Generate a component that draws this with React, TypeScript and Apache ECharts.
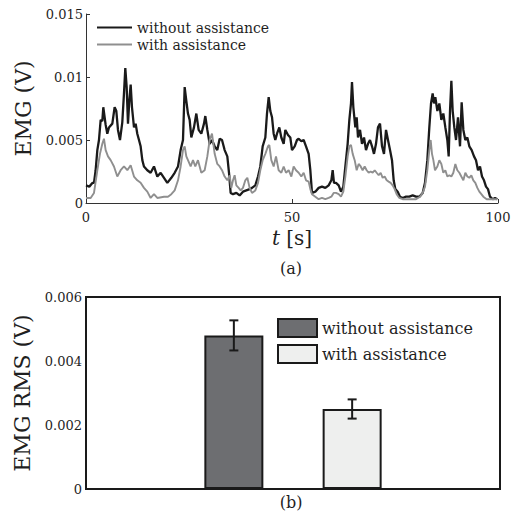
import React, { useEffect, useRef } from 'react';
import * as echarts from 'echarts';

const FONT = 'DejaVu Serif';
const TEXT = '#1f1f1f';

// (a) EMG time series: [t (s), EMG (V)]
const withoutAssistance: [number, number][] = [
  [0, 0.0014], [0.8, 0.0013], [1.6, 0.0016], [1.94, 0.0016], [2.34, 0.0026], [2.75, 0.0042], [3.15, 0.005], [3.56, 0.0066], [3.96, 0.0065], [4.2, 0.0076], [4.77, 0.0062], [5.17, 0.0055], [5.58, 0.006], [6.39, 0.0063], [6.95, 0.0076], [7.36, 0.0073], [7.76, 0.0058], [8.25, 0.005], [8.81, 0.0064], [9.22, 0.0087], [9.54, 0.0107], [9.87, 0.0092], [10.19, 0.0063], [10.51, 0.0081], [10.84, 0.0094], [11.16, 0.0076], [11.65, 0.006], [12.05, 0.0063], [12.45, 0.0055], [12.86, 0.005], [13.26, 0.0045], [13.67, 0.0034], [14.07, 0.0029], [14.88, 0.0026], [15.69, 0.0024], [16.5, 0.0029], [17.31, 0.0021], [18.12, 0.0024], [18.93, 0.002], [19.74, 0.0016],
  [20.71, 0.002], [21.52, 0.0024], [22.33, 0.0029], [22.97, 0.0042], [23.54, 0.005], [23.95, 0.0092], [24.35, 0.0081], [24.75, 0.0071], [25.16, 0.0066], [25.56, 0.0052], [26.21, 0.006], [26.78, 0.0071], [27.34, 0.0058], [27.99, 0.0055], [28.64, 0.0063], [28.96, 0.0069], [29.45, 0.0058], [30.01, 0.0047], [30.58, 0.005], [31.23, 0.0045], [31.87, 0.0042], [32.44, 0.0051], [33.01, 0.005], [33.65, 0.0042], [34.3, 0.0037], [34.71, 0.0024], [35.11, 0.0008], [35.68, 0.0007], [36.49, 0.0008], [37.29, 0.0006], [38.1, 0.0009], [38.91, 0.001], [39.72, 0.0011],
  [40.29, 0.0012], [41.1, 0.0014], [41.75, 0.0021], [42.31, 0.0029], [42.88, 0.0045], [43.53, 0.0052], [43.93, 0.0071], [44.34, 0.0084], [44.74, 0.0073], [45.15, 0.0068], [45.55, 0.0055], [45.95, 0.005], [46.36, 0.0055], [46.92, 0.006], [47.41, 0.0052], [47.98, 0.0047], [48.38, 0.0058], [49.03, 0.0054], [49.59, 0.0052], [50, 0.0042], [50.65, 0.0045], [51.21, 0.005], [51.62, 0.0051], [52.26, 0.0049], [52.83, 0.005], [53.4, 0.0045], [54.04, 0.0039], [54.45, 0.0026], [54.85, 0.0008], [55.66, 0.0009], [56.47, 0.0012], [57.28, 0.0013], [58.09, 0.0012], [58.9, 0.0014], [59.55, 0.0018], [59.87, 0.0026], [60.19, 0.0016],
  [60.68, 0.0016], [61.33, 0.0014], [61.89, 0.0009], [62.46, 0.0013], [62.95, 0.0029], [63.51, 0.0047], [63.92, 0.0066], [64.32, 0.0079], [64.56, 0.0096], [64.89, 0.0076], [65.37, 0.006], [65.7, 0.0068], [66.02, 0.0052], [66.51, 0.0058], [66.99, 0.0047], [67.48, 0.0052], [67.96, 0.0042], [68.45, 0.0047], [68.93, 0.005], [69.42, 0.0045], [69.9, 0.0039], [70.39, 0.0047], [70.87, 0.006], [71.36, 0.0063], [71.85, 0.0045], [72.33, 0.0039], [72.82, 0.0058], [73.3, 0.005], [73.79, 0.0042], [74.27, 0.0034], [74.68, 0.0018], [75.08, 0.0011], [75.65, 0.0009], [76.21, 0.0005], [76.86, 0.0004], [77.67, 0.0005], [78.48, 0.0005], [79.29, 0.0006], [80.1, 0.0005], [80.91, 0.0005],
  [81.72, 0.0008], [82.28, 0.0016], [82.85, 0.0034], [83.33, 0.006], [83.74, 0.0079], [84.14, 0.0087], [84.47, 0.0079], [84.79, 0.0084], [85.28, 0.0073], [85.76, 0.0079], [86.25, 0.0066], [86.73, 0.0071], [87.22, 0.006], [87.7, 0.005], [88.03, 0.0037], [88.35, 0.0073], [88.68, 0.0097], [89, 0.0073], [89.4, 0.006], [89.81, 0.005], [90.29, 0.0068], [90.78, 0.0045], [91.18, 0.008], [91.59, 0.0058], [92.07, 0.005], [92.56, 0.0052], [93.04, 0.0045], [93.61, 0.0042], [94.18, 0.0037], [94.66, 0.0034], [95.15, 0.0026], [95.63, 0.0029], [96.12, 0.0021], [96.6, 0.0018], [97.09, 0.0013], [97.57, 0.0011], [98.06, 0.0005], [98.71, 0.0003], [99.27, 0.0004], [99.84, 0.0003],
];

const withAssistance: [number, number][] = [
  [0, 0.0004], [1.13, 0.0004], [1.94, 0.0008], [2.75, 0.0026], [3.39, 0.0039], [3.96, 0.0047], [4.36, 0.0051], [4.77, 0.0042], [5.34, 0.0037], [5.98, 0.0034], [6.79, 0.0029], [7.6, 0.0021], [8.41, 0.0026], [9.22, 0.0029], [10.03, 0.0026], [10.84, 0.003], [11.65, 0.0021], [12.45, 0.0018], [13.26, 0.0016], [14.07, 0.0012], [14.88, 0.0009], [15.69, 0.0004], [16.5, 0.0007], [17.31, 0.0004], [18.93, 0.0005],
  [19.9, 0.0005], [20.71, 0.0007], [21.52, 0.001], [22.33, 0.0018], [22.97, 0.0029], [23.54, 0.0042], [23.95, 0.0045], [24.35, 0.0037], [24.75, 0.0034], [25.4, 0.0029], [25.97, 0.0034], [26.53, 0.0029], [27.18, 0.0034], [27.99, 0.0024], [28.8, 0.0026], [29.45, 0.0037], [30.01, 0.005], [30.58, 0.0055], [31.23, 0.0039], [31.87, 0.0031], [32.44, 0.0029], [33.01, 0.0026], [33.65, 0.0021], [34.3, 0.0018], [34.87, 0.0022], [35.27, 0.0012], [35.68, 0.0018], [36.08, 0.0022], [36.49, 0.0014], [37.05, 0.0012], [37.54, 0.001], [38.1, 0.0012], [38.67, 0.0018], [39.16, 0.002], [39.72, 0.0012],
  [40.29, 0.0008], [41.1, 0.001], [41.75, 0.0016], [42.31, 0.0026], [42.88, 0.0034], [43.53, 0.0039], [44.17, 0.0045], [44.5, 0.0046], [44.98, 0.0034], [45.55, 0.0029], [46.12, 0.0037], [46.76, 0.0026], [47.41, 0.0024], [47.98, 0.0029], [48.54, 0.0024], [49.19, 0.0026], [49.84, 0.0021], [50.4, 0.0029], [50.97, 0.0026], [51.62, 0.0024], [52.26, 0.0021], [52.83, 0.0024], [53.4, 0.0018], [54.04, 0.0017], [54.45, 0.0011], [54.85, 0.0007], [55.66, 0.0005], [56.47, 0.0003], [57.28, 0.0004], [58.09, 0.0003], [58.9, 0.0004], [59.55, 0.0005], [60.11, 0.0008],
  [60.68, 0.0008], [61.33, 0.0007], [61.89, 0.0005], [62.46, 0.0009], [62.95, 0.0021], [63.51, 0.0037], [63.92, 0.0045], [64.32, 0.0046], [64.73, 0.0039], [65.21, 0.0034], [65.7, 0.0026], [66.18, 0.0031], [66.67, 0.0029], [67.15, 0.0026], [67.64, 0.0029], [68.12, 0.0026], [68.61, 0.0024], [69.09, 0.0025], [69.58, 0.0024], [70.07, 0.0026], [70.55, 0.0024], [71.04, 0.0022], [71.52, 0.0024], [72.01, 0.002], [72.49, 0.0021], [72.98, 0.0018], [73.46, 0.0017], [73.95, 0.0016], [74.43, 0.0014], [74.92, 0.0011], [75.4, 0.0007], [76.05, 0.0004], [76.86, 0.0003], [77.67, 0.0003], [78.48, 0.0003], [79.29, 0.0003], [80.1, 0.0003],
  [81.07, 0.0005], [81.72, 0.0008], [82.28, 0.0013], [82.85, 0.0026], [83.33, 0.0042], [83.66, 0.005], [83.98, 0.0039], [84.31, 0.0034], [84.71, 0.0026], [85.28, 0.0029], [85.76, 0.0034], [86.25, 0.0031], [86.73, 0.0024], [87.22, 0.0026], [87.7, 0.0021], [88.19, 0.0022], [88.68, 0.0021], [89.16, 0.0024], [89.65, 0.0031], [90.13, 0.0026], [90.62, 0.0024], [91.1, 0.0021], [91.59, 0.0018], [92.07, 0.0024], [92.56, 0.0021], [93.04, 0.002], [93.53, 0.0022], [94.01, 0.0018], [94.5, 0.0016], [94.99, 0.0012], [95.47, 0.0009], [95.96, 0.0007], [96.44, 0.0005], [97.25, 0.0003], [98.06, 0.0003], [98.87, 0.0003], [99.84, 0.0003],
];

// (b) EMG RMS bars
const rmsNames = ['without assistance', 'with assistance'];
const rmsPositions = [1, 2];
const rmsMean = [0.0048, 0.0025];
const rmsErr = [0.00047, 0.0003];
const barColors = ['#6d6e71', '#eeefee'];

const topXTicks = { min: 0, max: 100, interval: 50 };
const topYTicks = { min: 0, max: 0.015, interval: 0.005 };
const botYTicks = { min: 0, max: 0.006, interval: 0.002 };

const SUFFIX = ' (RMS)';

export default function App() {
  const ref = useRef<HTMLDivElement>(null);
  useEffect(() => {
    const chart = echarts.init(ref.current!, null, { renderer: 'svg' });
    const labelStyle = { color: TEXT, fontFamily: FONT, fontSize: 13 };
    const option: any = {
      animation: false,
      backgroundColor: '#ffffff',
      grid: [
        { left: 86, top: 14, width: 412, height: 189 },
        { left: 86, top: 297, width: 414, height: 192, show: true, borderColor: '#1a1a1a', borderWidth: 2, backgroundColor: 'transparent' },
      ],
      xAxis: [
        {
          gridIndex: 0, type: 'value', ...topXTicks,
          axisLine: { lineStyle: { color: '#333', width: 1 } },
          axisTick: { inside: true, length: 4, lineStyle: { color: '#333' } },
          splitLine: { show: false },
          axisLabel: { ...labelStyle, margin: 8 },
          name: '{i|t} [s]', nameLocation: 'middle', nameGap: 25,
          nameTextStyle: { color: TEXT, fontFamily: FONT, fontSize: 20, rich: { i: { fontStyle: 'italic', fontFamily: FONT, fontSize: 20, color: TEXT } } },
        },
        { gridIndex: 1, type: 'value', min: -0.25, max: 3.25, show: false },
      ],
      yAxis: [
        {
          gridIndex: 0, type: 'value', ...topYTicks,
          axisLine: { show: true, lineStyle: { color: '#333', width: 1 } },
          axisTick: { show: true, inside: true, length: 4, lineStyle: { color: '#333' } },
          splitLine: { show: false },
          axisLabel: { ...labelStyle, margin: 3 },
          name: 'EMG (V)', nameLocation: 'middle', nameGap: 48, nameRotate: 90,
          nameTextStyle: { color: TEXT, fontFamily: FONT, fontSize: 22 },
        },
        {
          gridIndex: 1, type: 'value', ...botYTicks,
          axisLine: { show: false }, axisTick: { show: false }, splitLine: { show: false },
          axisLabel: { ...labelStyle, margin: 4 },
          name: 'EMG RMS (V)', nameLocation: 'middle', nameGap: 46, nameRotate: 90,
          nameTextStyle: { color: TEXT, fontFamily: FONT, fontSize: 22 },
        },
      ],
      legend: [
        {
          data: ['without assistance', 'with assistance'], orient: 'vertical', left: 97, top: 19, padding: 0,
          icon: 'rect', itemWidth: 35, itemHeight: 2, itemGap: 0, selectedMode: false,
          textStyle: { color: TEXT, fontFamily: FONT, fontSize: 14, lineHeight: 17 },
        },
        {
          data: rmsNames.map((n) => n + SUFFIX), orient: 'vertical', left: 277, top: 318, padding: 0,
          itemWidth: 39, itemHeight: 18, itemGap: 6, icon: 'rect', selectedMode: false,
          formatter: (n: string) => n.replace(SUFFIX, ''),
          textStyle: { color: TEXT, fontFamily: FONT, fontSize: 16 },
        },
      ],
      series: [
        {
          type: 'line', name: 'without assistance', xAxisIndex: 0, yAxisIndex: 0, data: withoutAssistance,
          symbol: 'none', lineStyle: { color: '#1a1a1a', width: 2.3 }, itemStyle: { color: '#1a1a1a' }, z: 3,
        },
        {
          type: 'line', name: 'with assistance', xAxisIndex: 0, yAxisIndex: 0, data: withAssistance,
          symbol: 'none', lineStyle: { color: '#8f8f8f', width: 1.9 }, itemStyle: { color: '#8f8f8f' }, z: 4,
        },
        ...rmsNames.map((n, i) => ({
          type: 'bar', name: n + SUFFIX, xAxisIndex: 1, yAxisIndex: 1, stack: 'rms', barWidth: 59,
          data: [[rmsPositions[i], rmsMean[i]]],
          itemStyle: { color: barColors[i], borderColor: '#1a1a1a', borderWidth: 2 },
        })),
        {
          type: 'custom', xAxisIndex: 1, yAxisIndex: 1, z: 10,
          data: rmsPositions.map((p, i) => [p, rmsMean[i] - rmsErr[i], rmsMean[i] + rmsErr[i]]),
          renderItem: (params: any, api: any) => {
            const lo = api.coord([api.value(0), api.value(1)]);
            const hi = api.coord([api.value(0), api.value(2)]);
            const hw = 4.5;
            const st = { stroke: '#1a1a1a', lineWidth: 2 };
            return {
              type: 'group',
              children: [
                { type: 'line', shape: { x1: lo[0], y1: lo[1], x2: hi[0], y2: hi[1] }, style: st },
                { type: 'line', shape: { x1: lo[0] - hw, y1: lo[1], x2: lo[0] + hw, y2: lo[1] }, style: st },
                { type: 'line', shape: { x1: hi[0] - hw, y1: hi[1], x2: hi[0] + hw, y2: hi[1] }, style: st },
              ],
            };
          },
        },
      ],
      graphic: [
        { type: 'text', x: 291, y: 268, style: { text: '(a)', fill: TEXT, font: `16px "${FONT}"`, textAlign: 'center', textVerticalAlign: 'middle' } },
        { type: 'text', x: 291, y: 502, style: { text: '(b)', fill: TEXT, font: `16px "${FONT}"`, textAlign: 'center', textVerticalAlign: 'middle' } },
      ],
    };
    chart.setOption(option);
    return () => chart.dispose();
  }, []);
  return <div ref={ref} style={{ position: 'absolute', left: 0, top: 0, width: 519, height: 522 }} />;
}
